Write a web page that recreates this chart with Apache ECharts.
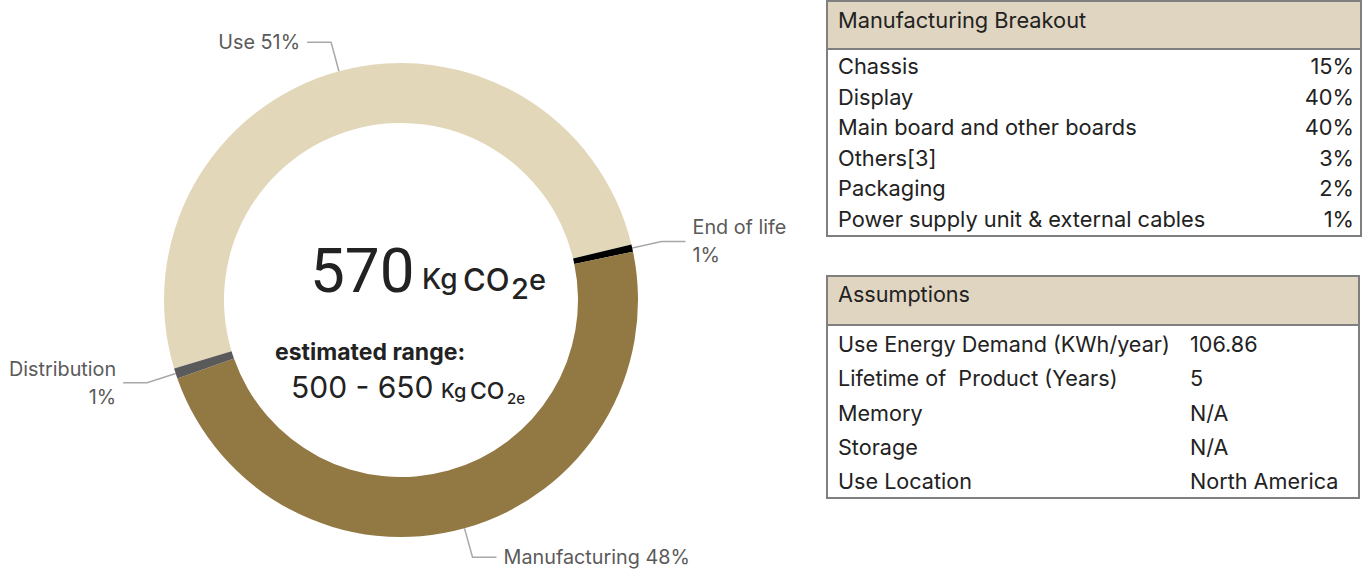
<!DOCTYPE html>
<html>
<head>
<meta charset="utf-8">
<script src="https://cdn.jsdelivr.net/npm/echarts@6/dist/echarts.min.js"></script>
<style>
  html, body { margin: 0; padding: 0; background: #fff; }
  #main { width: 1364px; height: 572px; }
</style>
</head>
<body>
<div id="main"></div>
<script>
  // life cycle shares (labels show the rounded %)
  var stages = ['Use', 'End of life', 'Manufacturing', 'Distribution']
  var shares = [50.9, 0.5, 47.9, 0.7]
  var stageColors = ['#e3d7b9', '#000000', '#927843', '#5a5a5a']

  var breakoutNames = ['Chassis', 'Display', 'Main board and other boards', 'Others[3]', 'Packaging', 'Power supply unit & external cables']
  var breakoutValues = ['15%', '40%', '40%', '3%', '2%', '1%']

  var assumptionNames = ['Use Energy Demand (KWh/year)', 'Lifetime of  Product (Years)', 'Memory', 'Storage', 'Use Location']
  var assumptionValues = ['106.86', '5', 'N/A', 'N/A', 'North America']

  var FONT = 'Inter'
  var chart = echarts.init(document.getElementById('main'), null, { renderer: 'svg' })

  function txt (x, y, text, size, opts) {
    opts = opts || {}
    return {
      type: 'text',
      x: x,
      y: y,
      silent: true,
      style: {
        text: text,
        fontFamily: opts.font || FONT,
        fontSize: size,
        fontWeight: opts.weight || 'normal',
        fill: opts.color || '#222',
        textAlign: opts.align || 'left',
        textVerticalAlign: 'middle'
      }
    }
  }

  var graphics = []
  // manufacturing breakout table
  graphics.push({ type: 'rect', shape: { x: 827, y: 1, width: 534, height: 47 }, style: { fill: '#e0d5c1' }, silent: true })
  graphics.push({ type: 'rect', shape: { x: 827, y: 1, width: 534, height: 235 }, style: { fill: 'none', stroke: '#7f7f7f', lineWidth: 2 }, silent: true })
  graphics.push({ type: 'line', shape: { x1: 827, y1: 49, x2: 1361, y2: 49 }, style: { stroke: '#7f7f7f', lineWidth: 2 }, silent: true })
  graphics.push(txt(838, 20, 'Manufacturing Breakout', 21.8))
  breakoutNames.forEach(function (n, i) {
    var y = 66 + i * 30.6
    graphics.push(txt(838, y, n, 21.8))
    graphics.push(txt(1354, y, breakoutValues[i], 21.8, { align: 'right' }))
  })
  // assumptions table
  graphics.push({ type: 'rect', shape: { x: 827, y: 276, width: 532, height: 48 }, style: { fill: '#e0d5c1' }, silent: true })
  graphics.push({ type: 'rect', shape: { x: 827, y: 276, width: 532, height: 222 }, style: { fill: 'none', stroke: '#7f7f7f', lineWidth: 2 }, silent: true })
  graphics.push({ type: 'line', shape: { x1: 827, y1: 325, x2: 1359, y2: 325 }, style: { stroke: '#7f7f7f', lineWidth: 2 }, silent: true })
  graphics.push(txt(838, 294, 'Assumptions', 21.6))
  assumptionNames.forEach(function (n, i) {
    var y = 344 + i * 34.3
    graphics.push(txt(838, y, n, 21.6))
    graphics.push(txt(1190, y, assumptionValues[i], 21.6))
  })

  // centre text
  graphics.push(txt(310, 270, '570', 62, { font: 'Roboto' }))
  graphics.push(txt(422, 279, 'Kg', 28, { weight: 500 }))
  graphics.push(txt(463, 279, 'CO', 31, { weight: 500 }))
  graphics.push(txt(511, 288, '2', 29, { weight: 500 }))
  graphics.push(txt(529, 279, 'e', 29, { weight: 500 }))
  graphics.push(txt(275, 352, 'estimated range:', 23, { weight: 'bold' }))
  graphics.push(txt(291, 387, '500 - 650', 30))
  graphics.push(txt(441, 391, 'Kg', 20, { weight: 500 }))
  graphics.push(txt(470, 391, 'CO', 23, { weight: 500 }))
  graphics.push(txt(507, 398, '2e', 15, { weight: 500 }))

  chart.setOption({
    animation: false,
    color: stageColors,
    series: [{
      type: 'pie',
      center: [401, 300],
      radius: [177, 237],
      startAngle: 196.8,
      clockwise: true,
      avoidLabelOverlap: false,
      silent: true,
      label: {
        show: true,
        position: 'outside',
        fontFamily: FONT,
        fontSize: 19.8,
        lineHeight: 28,
        color: '#5a5a5a',
        distanceToLabelLine: 7,
        formatter: function (p) {
          var pct = Math.round(p.value) + '%'
          return p.value < 5 ? p.name + '\n' + pct : p.name + ' ' + pct
        }
      },
      labelLine: {
        show: true,
        length: 30,
        length2: 24,
        lineStyle: { color: '#a8a8a8', width: 1.5 }
      },
      data: stages.map(function (s, i) { return { name: s, value: shares[i] } })
    }],
    graphic: graphics
  })
</script>
</body>
</html>
